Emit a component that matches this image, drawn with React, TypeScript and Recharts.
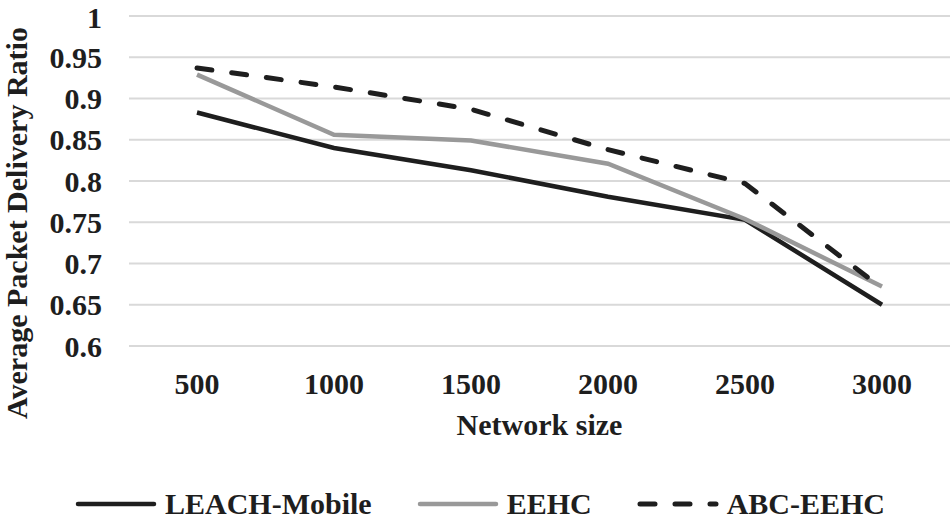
import React from 'react'
import { LineChart, Line, XAxis, YAxis, CartesianGrid, Legend } from 'recharts'

const networkSizes = ['500', '1000', '1500', '2000', '2500', '3000']
const leachMobile = [0.883, 0.84, 0.813, 0.781, 0.753, 0.65]
const eehc = [0.929, 0.856, 0.849, 0.821, 0.754, 0.672]
const abcEehc = [0.937, 0.914, 0.887, 0.838, 0.797, 0.67]
const yTicks = [0.6, 0.65, 0.7, 0.75, 0.8, 0.85, 0.9, 0.95, 1]

const FONT = '"Liberation Serif", "Times New Roman", serif'
const BLACK = '#1e1e1e'
const GRAY = '#999999'

const data = networkSizes.map((s, i) => ({
  size: s,
  leach: leachMobile[i],
  eehc: eehc[i],
  abc: abcEehc[i],
}))

const legendItems = [
  { name: 'LEACH-Mobile', color: BLACK, dash: undefined, width: 4.5 },
  { name: 'EEHC', color: GRAY, dash: undefined, width: 4.5 },
  { name: 'ABC-EEHC', color: BLACK, dash: '15 20', width: 5 },
]

const renderLegend = () => (
  <div style={{ display: 'flex', justifyContent: 'center', gap: 45, paddingTop: 11, paddingLeft: 10, fontFamily: FONT, fontWeight: 'bold', fontSize: 30, lineHeight: '30px', color: BLACK }}>
    {legendItems.map(it => (
      <div key={it.name} style={{ display: 'flex', alignItems: 'center' }}>
        <svg width={82} height={20} style={{ marginRight: 8 }}>
          <line x1={3} y1={10} x2={79} y2={10} stroke={it.color} strokeWidth={it.width} strokeDasharray={it.dash} strokeLinecap="round" />
        </svg>
        <span>{it.name}</span>
      </div>
    ))}
  </div>
)

const tickStyle = { fill: BLACK, fontSize: 30, fontWeight: 'bold', fontFamily: FONT }

export default function App() {
  return (
    <div style={{ position: 'absolute', left: 0, top: 0, width: 950, height: 522, background: '#fff' }}>
      <LineChart width={950} height={522} data={data} margin={{ top: 16, right: 0, left: 0, bottom: 0 }}>
        <CartesianGrid vertical={false} stroke="#d9d9d9" strokeWidth={2} />
        <XAxis
          dataKey="size"
          height={132}
          padding={{ left: 68, right: 68 }}
          axisLine={{ stroke: '#d9d9d9', strokeWidth: 2 }}
          tickLine={false}
          tickSize={0}
          tickMargin={27}
          tick={tickStyle}
          label={{
            content: ({ viewBox }: any) => (
              <text x={viewBox.x + viewBox.width / 2} y={viewBox.y + 89} textAnchor="middle" style={tickStyle}>
                Network size
              </text>
            ),
          }}
        />
        <YAxis
          width={129}
          domain={[0.6, 1]}
          ticks={yTicks}
          axisLine={false}
          tickLine={false}
          tickSize={0}
          tickMargin={27}
          tick={tickStyle}
          label={{
            content: () => (
              <text x={27} y={223} transform="rotate(-90 27 223)" textAnchor="middle" style={tickStyle}>
                Average Packet Delivery Ratio
              </text>
            ),
          }}
        />
        <Legend verticalAlign="bottom" height={44} content={renderLegend} />
        <Line dataKey="leach" name="LEACH-Mobile" stroke={BLACK} strokeWidth={4.5} dot={false} isAnimationActive={false} />
        <Line dataKey="eehc" name="EEHC" stroke={GRAY} strokeWidth={4.5} dot={false} isAnimationActive={false} />
        <Line dataKey="abc" name="ABC-EEHC" stroke={BLACK} strokeWidth={5} strokeDasharray="15 20" strokeLinecap="round" dot={false} isAnimationActive={false} />
      </LineChart>
    </div>
  )
}
